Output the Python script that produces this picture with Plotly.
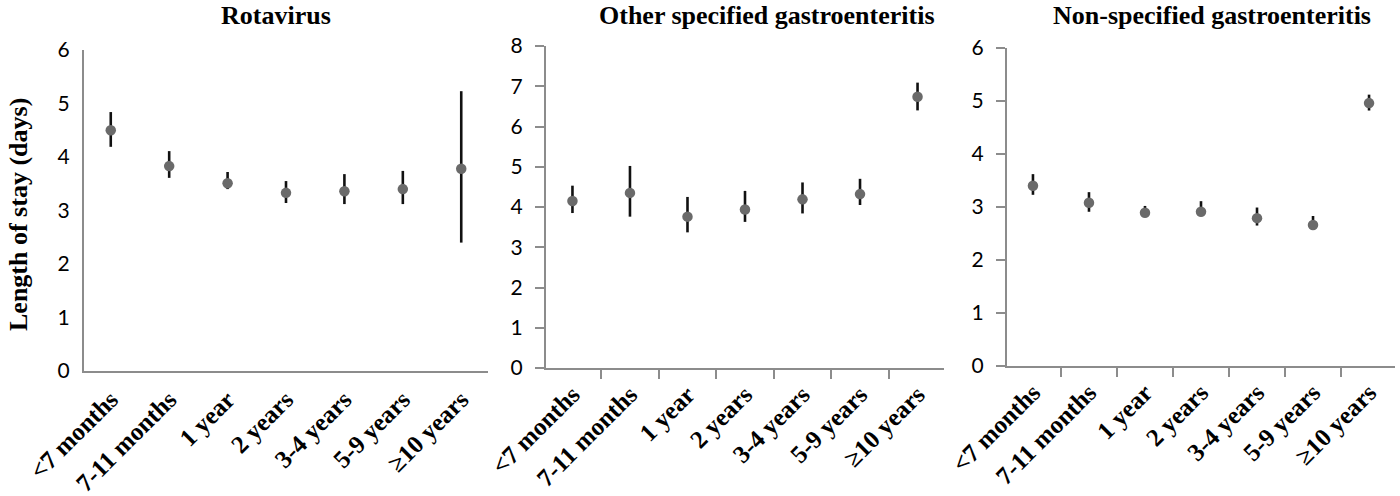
import plotly.graph_objects as go

categories = ["<7 months", "7-11 months", "1 year", "2 years", "3-4 years", "5-9 years", "≥10 years"]

# Rotavirus
rota_mean = [4.50, 3.83, 3.51, 3.33, 3.36, 3.40, 3.78]
rota_low = [4.19, 3.61, 3.40, 3.14, 3.12, 3.12, 2.40]
rota_high = [4.84, 4.11, 3.72, 3.55, 3.68, 3.74, 5.23]

# Other specified gastroenteritis
other_mean = [4.15, 4.35, 3.76, 3.94, 4.19, 4.32, 6.74]
other_low = [3.85, 3.76, 3.37, 3.63, 3.84, 4.05, 6.40]
other_high = [4.53, 5.02, 4.25, 4.40, 4.61, 4.70, 7.09]

# Non-specified gastroenteritis
non_mean = [3.40, 3.08, 2.89, 2.91, 2.79, 2.66, 4.96]
non_low = [3.23, 2.91, 2.82, 2.83, 2.65, 2.61, 4.82]
non_high = [3.62, 3.28, 3.02, 3.11, 2.99, 2.83, 5.12]

panels = [
    ("Rotavirus", rota_mean, rota_low, rota_high, 6),
    ("Other specified gastroenteritis", other_mean, other_low, other_high, 8),
    ("Non-specified gastroenteritis", non_mean, non_low, non_high, 6),
]

W, H = 1400, 496
# pixel boxes (left, right, top, bottom) and title centres
boxes = [(84, 488, 50, 371), (546, 944, 46, 368), (1007, 1395, 48, 366)]
title_x = [276, 767, 1212]

serif = "Liberation Serif, Times New Roman, serif"
sans = "Lato, Open Sans, sans-serif"
axis_col = "#8c8c8c"

fig = go.Figure()
annotations = []

for i, (title, mean, low, high, ymax) in enumerate(panels):
    n = "" if i == 0 else str(i + 1)
    fig.add_trace(go.Scatter(
        x=categories, y=mean, mode="markers",
        marker=dict(color="#6a6a6a", size=10.5),
        error_y=dict(type="data", symmetric=False,
                     array=[h - m for h, m in zip(high, mean)],
                     arrayminus=[m - l for m, l in zip(mean, low)],
                     color="#111111", thickness=2.6, width=0),
        xaxis="x" + n, yaxis="y" + n, showlegend=False,
    ))
    l, r, t, b = boxes[i]
    ticks = "" if i == 0 else "outside"
    fig.layout["xaxis" + n] = dict(
        domain=[l / W, r / W], anchor="y" + n, automargin=False,
        showline=True, linecolor=axis_col, linewidth=2,
        ticks=ticks, ticklen=9, tickcolor=axis_col, tickwidth=2,
        tickson="boundaries", tickangle=-45, showgrid=False,
        ticklabelstandoff=2 if i == 0 else 0,
        tickfont=dict(family=serif, size=25, color="black", weight="bold"),
    )
    fig.layout["yaxis" + n] = dict(
        domain=[1 - b / H, 1 - t / H], anchor="x" + n, automargin=False,
        range=[0, ymax], dtick=1,
        showline=True, linecolor=axis_col, linewidth=2,
        ticks=ticks, ticklen=9, tickcolor=axis_col, tickwidth=2,
        showgrid=False, zeroline=False, ticklabelstandoff=8,
        tickfont=dict(family=sans, size=21, color="black"),
    )
    annotations.append(dict(
        text="<b>" + title + "</b>", x=title_x[i] / W, y=1 - 16 / H,
        xref="paper", yref="paper", showarrow=False,
        xanchor="center", yanchor="middle",
        font=dict(family=serif, size=26, color="black"),
    ))

annotations.append(dict(
    text="<b>Length of stay (days)</b>", x=18 / W, y=1 - 215 / H,
    xref="paper", yref="paper", showarrow=False, textangle=-90,
    xanchor="center", yanchor="middle",
    font=dict(family=serif, size=26, color="black"),
))

fig.update_layout(
    width=W, height=H,
    margin=dict(l=0, r=0, t=0, b=0),
    paper_bgcolor="white", plot_bgcolor="white",
    annotations=annotations,
)

# drop the browser's default page margin so the figure fills the window
fig.write_html("out.html", config={"displayModeBar": False},
               post_script="document.body.style.margin = '0';")
